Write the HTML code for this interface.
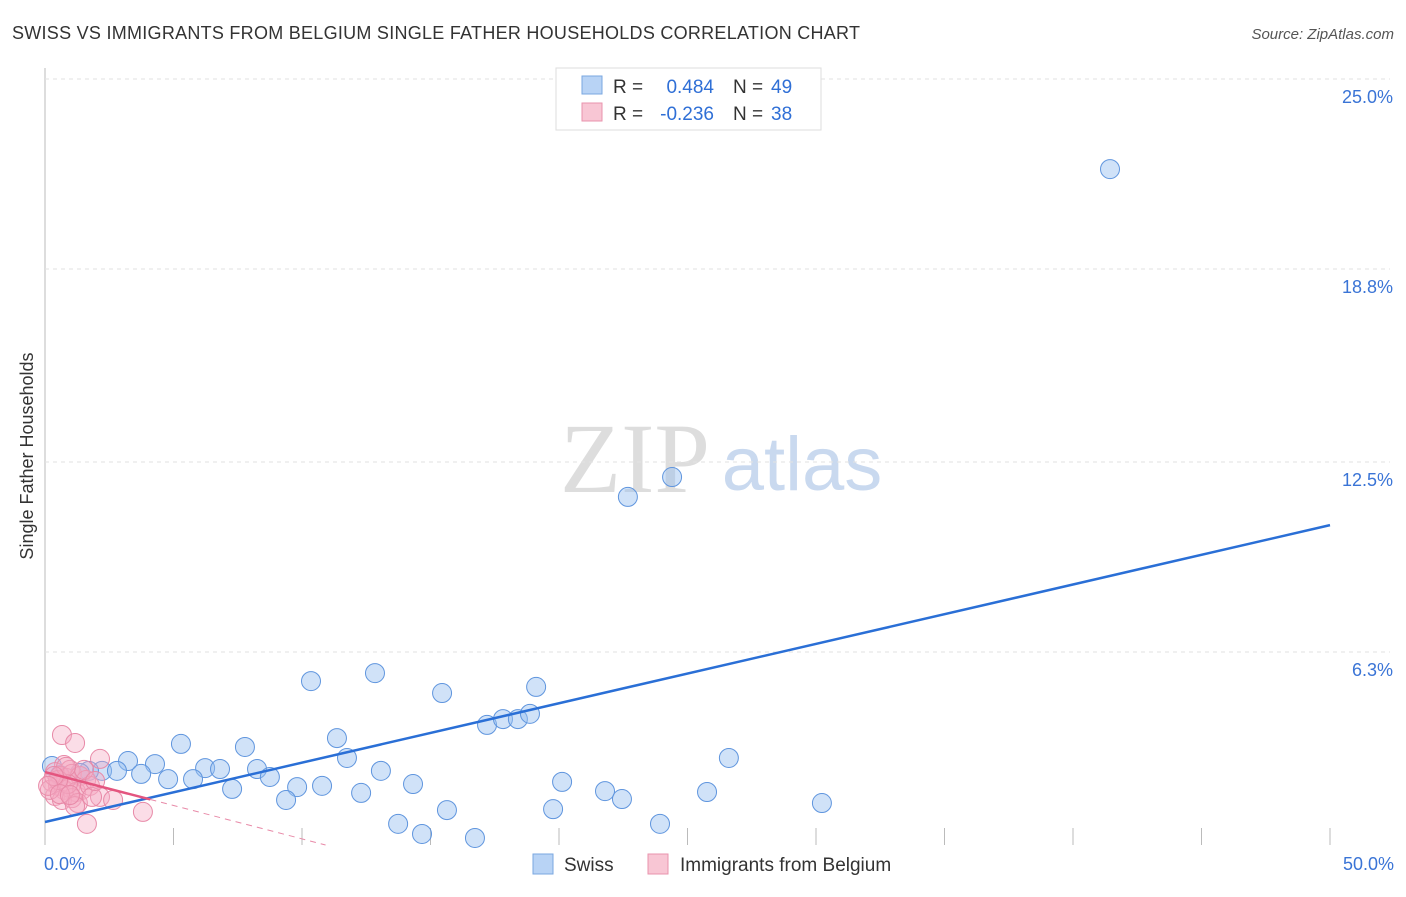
<!DOCTYPE html>
<html><head><meta charset="utf-8"><style>
body{margin:0;background:#fff;font-family:"Liberation Sans",sans-serif}
</style></head><body>
<svg width="1406" height="892" xmlns="http://www.w3.org/2000/svg" id="chart">
<text x="12" y="39" font-size="18" fill="#333" textLength="848">SWISS VS IMMIGRANTS FROM BELGIUM SINGLE FATHER HOUSEHOLDS CORRELATION CHART</text>
<text x="1394" y="39" font-size="15" fill="#555" font-style="italic" text-anchor="end">Source: ZipAtlas.com</text>
<text x="33" y="456" font-size="18" fill="#333" transform="rotate(-90 33 456)" text-anchor="middle">Single Father Households</text>
<g><text x="635" y="492" font-size="100" fill="#ddd" font-family="Liberation Serif" text-anchor="middle">ZIP</text><text x="802" y="490" font-size="76" fill="#c9d9ef" text-anchor="middle">atlas</text></g>
<g id="grid"></g><g id="marks"></g>
<g>
<rect x="556" y="68" width="265" height="62" fill="#fff" stroke="#ddd"/>
<rect x="582" y="76" width="20" height="18" fill="#b8d3f5" stroke="#7aa7e0"/>
<text x="613" y="93" font-size="19" fill="#333">R =</text><text x="714" y="93" font-size="19" fill="#2f6fd6" text-anchor="end">0.484</text><text x="733" y="93" font-size="19" fill="#333">N =</text><text x="771" y="93" font-size="19" fill="#2f6fd6">49</text>
<rect x="582" y="103" width="20" height="18" fill="#f8c6d4" stroke="#e993ad"/>
<text x="613" y="120" font-size="19" fill="#333">R =</text><text x="714" y="120" font-size="19" fill="#2f6fd6" text-anchor="end">-0.236</text><text x="733" y="120" font-size="19" fill="#333">N =</text><text x="771" y="120" font-size="19" fill="#2f6fd6">38</text>
</g>
<g>
<rect x="533" y="854" width="20" height="20" fill="#b8d3f5" stroke="#7aa7e0"/><text x="564" y="871" font-size="19" fill="#333">Swiss</text>
<rect x="648" y="854" width="20" height="20" fill="#f8c6d4" stroke="#e993ad"/><text x="680" y="871" font-size="19" fill="#333">Immigrants from Belgium</text>
</g>
</svg>
<script>
const yTicks=[25.0,18.8,12.5,6.3];
const yTickLabels=["25.0%","18.8%","12.5%","6.3%"];
const xTickLabels=["0.0%","50.0%"];
const swissX=[41.44,22.68,24.40,10.35,12.84,15.45,19.11,17.20,17.82,18.40,18.87,11.36,5.29,7.78,26.61,3.23,4.28,11.75,6.23,6.81,8.25,13.07,2.22,2.80,1.71,3.74,4.79,5.76,8.75,20.12,14.32,9.81,10.78,7.28,21.79,25.76,12.30,9.38,22.45,30.23,15.64,19.77,13.74,23.93,14.67,16.73,0.27,0.58,1.36];
const swissY=[22.06,11.36,12.01,5.35,5.61,4.96,5.16,3.92,4.11,4.11,4.28,3.49,3.30,3.20,2.84,2.74,2.64,2.84,2.51,2.48,2.48,2.42,2.42,2.42,2.42,2.32,2.15,2.15,2.22,2.06,1.99,1.89,1.93,1.83,1.76,1.73,1.70,1.47,1.50,1.37,1.14,1.17,0.69,0.69,0.36,0.23,2.58,2.28,2.35];
const belX=[0.66,1.17,2.14,0.74,0.97,0.39,0.58,0.82,1.05,1.36,1.60,0.27,0.51,0.74,0.97,1.21,1.44,1.75,0.39,0.66,1.05,1.28,2.14,2.65,3.81,1.63,0.19,0.89,0.51,1.52,1.17,1.83,0.82,0.35,0.12,0.58,0.97,1.95];
const belY=[3.59,3.33,2.81,2.61,2.45,2.38,2.25,2.19,2.32,2.25,2.12,2.06,1.93,1.80,1.86,1.73,1.80,1.93,1.60,1.47,1.53,1.37,1.57,1.47,1.08,0.69,1.80,1.99,2.12,2.45,1.27,1.57,2.55,2.25,1.93,1.66,1.63,2.09];
const swissLine=[0.75,10.44];
const belLine=[2.38,-8.52];
const X=v=>45+v*25.7, Y=v=>845-v*30.64;
const NS="http://www.w3.org/2000/svg";
function mk(t,a,p){const e=document.createElementNS(NS,t);for(const k in a)e.setAttribute(k,a[k]);p.appendChild(e);return e;}
const g=document.getElementById('grid'), m=document.getElementById('marks');
const ax=mk('line',{x1:45,y1:68,x2:45,y2:845,stroke:'#bbb'},g);


yTicks.forEach((t,i)=>{
 const l=mk('line',{x1:45,x2:1390,y1:Y(t),y2:Y(t),stroke:'#e2e2e2','stroke-dasharray':'4 4'},g);
 
 
 const tx=mk('text',{x:1393,y:Y(t)+24,'font-size':18,fill:'#3a74d6','text-anchor':'end'},g);
 tx.textContent=yTickLabels[i];
 
 
});
for(let i=1;i<=10;i++){const l=mk('line',{x1:X(i*5),x2:X(i*5),y1:828,y2:845,stroke:'#bbb'},g);
 
 }
[[0,'start',44],[50,'end',1394]].forEach((d,i)=>{const t=mk('text',{x:d[2],y:870,'font-size':18,fill:'#3a74d6','text-anchor':d[1]},g);t.textContent=xTickLabels[i];
 
 });
swissX.forEach((x,i)=>{const c=mk('circle',{cx:X(x),cy:Y(swissY[i]),r:9.5,fill:'rgba(150,190,240,0.45)',stroke:'#5f95de','stroke-width':1},m);
 
 });
belX.forEach((x,i)=>{const c=mk('circle',{cx:X(x),cy:Y(belY[i]),r:9.5,fill:'rgba(245,170,195,0.4)',stroke:'#e88aa8','stroke-width':1},m);
 
 });
const sl=mk('line',{x1:X(0),y1:Y(swissLine[0]),x2:X(50),y2:Y(swissLine[1]),stroke:'#2a6fd6','stroke-width':2.5},m);


const bs=(belLine[1]-belLine[0])/50;
const b1=mk('line',{x1:X(0),y1:Y(belLine[0]),x2:X(4.1),y2:Y(belLine[0]+bs*4.1),stroke:'#e4557f','stroke-width':2.5},m);


const xe=(0-belLine[0])/bs;
const b2=mk('line',{x1:X(4.1),y1:Y(belLine[0]+bs*4.1),x2:X(xe),y2:Y(0),stroke:'#e88aa8','stroke-width':1,'stroke-dasharray':'6 5'},m);


</script>
</body></html>
